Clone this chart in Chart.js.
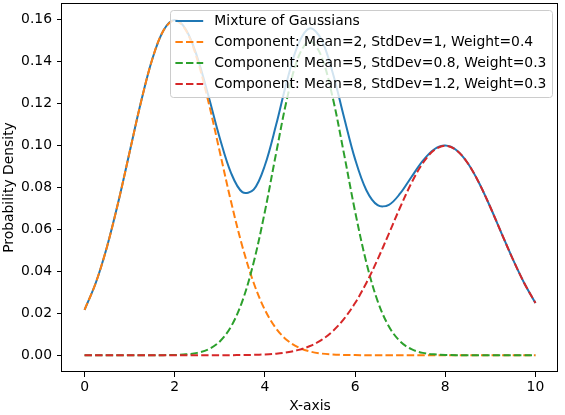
<!DOCTYPE html>
<html><head><meta charset="utf-8">
<script src="https://cdn.jsdelivr.net/npm/chart.js@4"></script>
<style>html,body{margin:0;padding:0;background:#fff}canvas{display:block}</style>
</head><body>
<canvas id="c" width="565" height="415"></canvas>
<script>
const xValues = [0,0.25,0.5,0.75,1,1.25,1.5,1.75,2,2.25,2.5,2.75,3,3.25,3.5,3.75,4,4.25,4.5,4.75,5,5.25,5.5,5.75,6,6.25,6.5,6.75,7,7.25,7.5,7.75,8,8.25,8.5,8.75,9,9.25,9.5,9.75,10];
const mixture = [0.02160,0.03451,0.05181,0.07306,0.09679,0.12045,0.14084,0.15471,0.15971,0.15508,0.14196,0.12333,0.10338,0.08677,0.07770,0.07884,0.09048,0.10986,0.13149,0.14866,0.15575,0.15050,0.13480,0.11374,0.09341,0.07860,0.07147,0.07164,0.07705,0.08491,0.09257,0.09801,0.09987,0.09764,0.09145,0.08204,0.07048,0.05797,0.04566,0.03444,0.02487];
const comp1 = [0.02160,0.03451,0.05181,0.07306,0.09679,0.12045,0.14083,0.15467,0.15958,0.15467,0.14083,0.12045,0.09679,0.07306,0.05181,0.03451,0.02160,0.01270,0.00701,0.00364,0.00177,0.00081,0.00035,0.00014,0.00005,0.00002,0.00001,0,0,0,0,0,0,0,0,0,0,0,0,0,0];
const comp2 = [0,0,0,0,0,0,0.00001,0.00004,0.00013,0.00041,0.00113,0.00287,0.00657,0.01367,0.02580,0.04414,0.06849,0.09640,0.12306,0.14247,0.14960,0.14247,0.12306,0.09640,0.06849,0.04414,0.02580,0.01367,0.00657,0.00287,0.00113,0.00041,0.00013,0.00004,0.00001,0,0,0,0,0,0];
const comp3 = [0,0,0,0,0,0,0,0,0,0,0,0.00001,0.00002,0.00004,0.00009,0.00019,0.00039,0.00076,0.00142,0.00255,0.00438,0.00722,0.01139,0.01720,0.02487,0.03444,0.04566,0.05797,0.07048,0.08204,0.09144,0.09760,0.09974,0.09760,0.09144,0.08204,0.07048,0.05797,0.04566,0.03444,0.02487];
const seriesLabels = ['Mixture of Gaussians','Component: Mean=2, StdDev=1, Weight=0.4','Component: Mean=5, StdDev=0.8, Weight=0.3','Component: Mean=8, StdDev=1.2, Weight=0.3'];
const xTicks = [0,2,4,6,8,10];
const yTicks = [0,0.02,0.04,0.06,0.08,0.10,0.12,0.14,0.16];
const xTitle = 'X-axis';
const yTitle = 'Probability Density';

const FS = 13.9;
const FONT = '"DejaVu Sans", sans-serif';
Chart.defaults.color = '#000';
Chart.defaults.font.family = FONT;
Chart.defaults.font.size = FS;

const toPts = arr => arr.map((v, i) => ({x: xValues[i], y: v}));
const colors = ['#1f77b4','#ff7f0e','#2ca02c','#d62728'];
const seriesData = [mixture, comp1, comp2, comp3];
const datasets = seriesData.map((arr, i) => ({
  label: seriesLabels[i],
  data: toPts(arr),
  borderColor: colors[i],
  borderWidth: 2,
  borderDash: i === 0 ? [] : [7.4, 3.2],
  pointRadius: 0,
  tension: 0.35,
  fill: false,
  order: 4 - i
}));

const framePlugin = {
  id: 'frame',
  afterDatasetsDraw(chart) {
    const a = chart.chartArea, ctx = chart.ctx;
    ctx.save();
    ctx.strokeStyle = '#000';
    ctx.lineWidth = 1;
    ctx.strokeRect(Math.round(a.left) - 0.5, Math.round(a.top) + 0.5, Math.round(a.right - a.left), Math.round(a.bottom - a.top) - 1);
    ctx.restore();
  }
};

const legendPlugin = {
  id: 'mplLegend',
  afterDraw(chart) {
    const a = chart.chartArea, ctx = chart.ctx;
    ctx.save();
    ctx.font = FS + 'px ' + FONT;
    const ds = chart.data.datasets;
    const tw = Math.max(...ds.map(d => ctx.measureText(d.label).width));
    const pad = 0.4 * FS, hl = 2 * FS, htp = 0.8 * FS, rowH = 21;
    const w = pad + hl + htp + tw + pad;
    const h = 11 + rowH * (ds.length - 1) + 13;
    const right = a.right - 6, top = a.top + 7, left = right - w;
    ctx.beginPath();
    ctx.roundRect(Math.round(left) + 0.5, top + 0.5, Math.round(w), h, 3);
    ctx.fillStyle = 'rgba(255,255,255,0.8)';
    ctx.fill();
    ctx.strokeStyle = '#cccccc';
    ctx.lineWidth = 1;
    ctx.stroke();
    ds.forEach((d, i) => {
      const y = top + 11 + rowH * i;
      ctx.beginPath();
      ctx.setLineDash(d.borderDash);
      ctx.strokeStyle = d.borderColor;
      ctx.lineWidth = 2;
      ctx.moveTo(left + pad, y);
      ctx.lineTo(left + pad + hl, y);
      ctx.stroke();
      ctx.setLineDash([]);
      ctx.fillStyle = '#000';
      ctx.textBaseline = 'middle';
      ctx.textAlign = 'left';
      ctx.fillText(d.label, left + pad + hl + htp, y);
    });
    ctx.restore();
  }
};

new Chart(document.getElementById('c'), {
  type: 'line',
  data: { datasets },
  options: {
    responsive: false,
    devicePixelRatio: 1,
    animation: false,
    layout: { padding: { top: 3, right: 7, left: 0, bottom: 0 } },
    plugins: { legend: { display: false }, tooltip: { enabled: false } },
    scales: {
      x: {
        type: 'linear', min: -0.5, max: 10.5,
        afterBuildTicks: s => { s.ticks = xTicks.map(v => ({value: v})); },
        afterFit: s => { s.height = 43; s.paddingLeft = 0; s.paddingRight = 0; },
        ticks: { padding: 2, callback: v => String(v), maxRotation: 0, autoSkip: false },
        grid: { drawOnChartArea: false, drawTicks: true, tickLength: 5, color: '#000', lineWidth: 1 },
        border: { display: false },
        title: { display: true, text: xTitle, padding: { top: 0, bottom: 0 } }
      },
      y: {
        type: 'linear', min: -0.00799, max: 0.16778,
        afterBuildTicks: s => { s.ticks = yTicks.map(v => ({value: v})); },
        afterFit: s => { s.width = 62; s.paddingTop = 0; s.paddingBottom = 0; },
        ticks: { padding: 5, callback: v => v.toFixed(2), autoSkip: false },
        grid: { drawOnChartArea: false, drawTicks: true, tickLength: 5, color: '#000', lineWidth: 1 },
        border: { display: false },
        title: { display: true, text: yTitle, padding: { top: 1, bottom: 0 } }
      }
    }
  },
  plugins: [framePlugin, legendPlugin]
});
</script>
</body></html>
